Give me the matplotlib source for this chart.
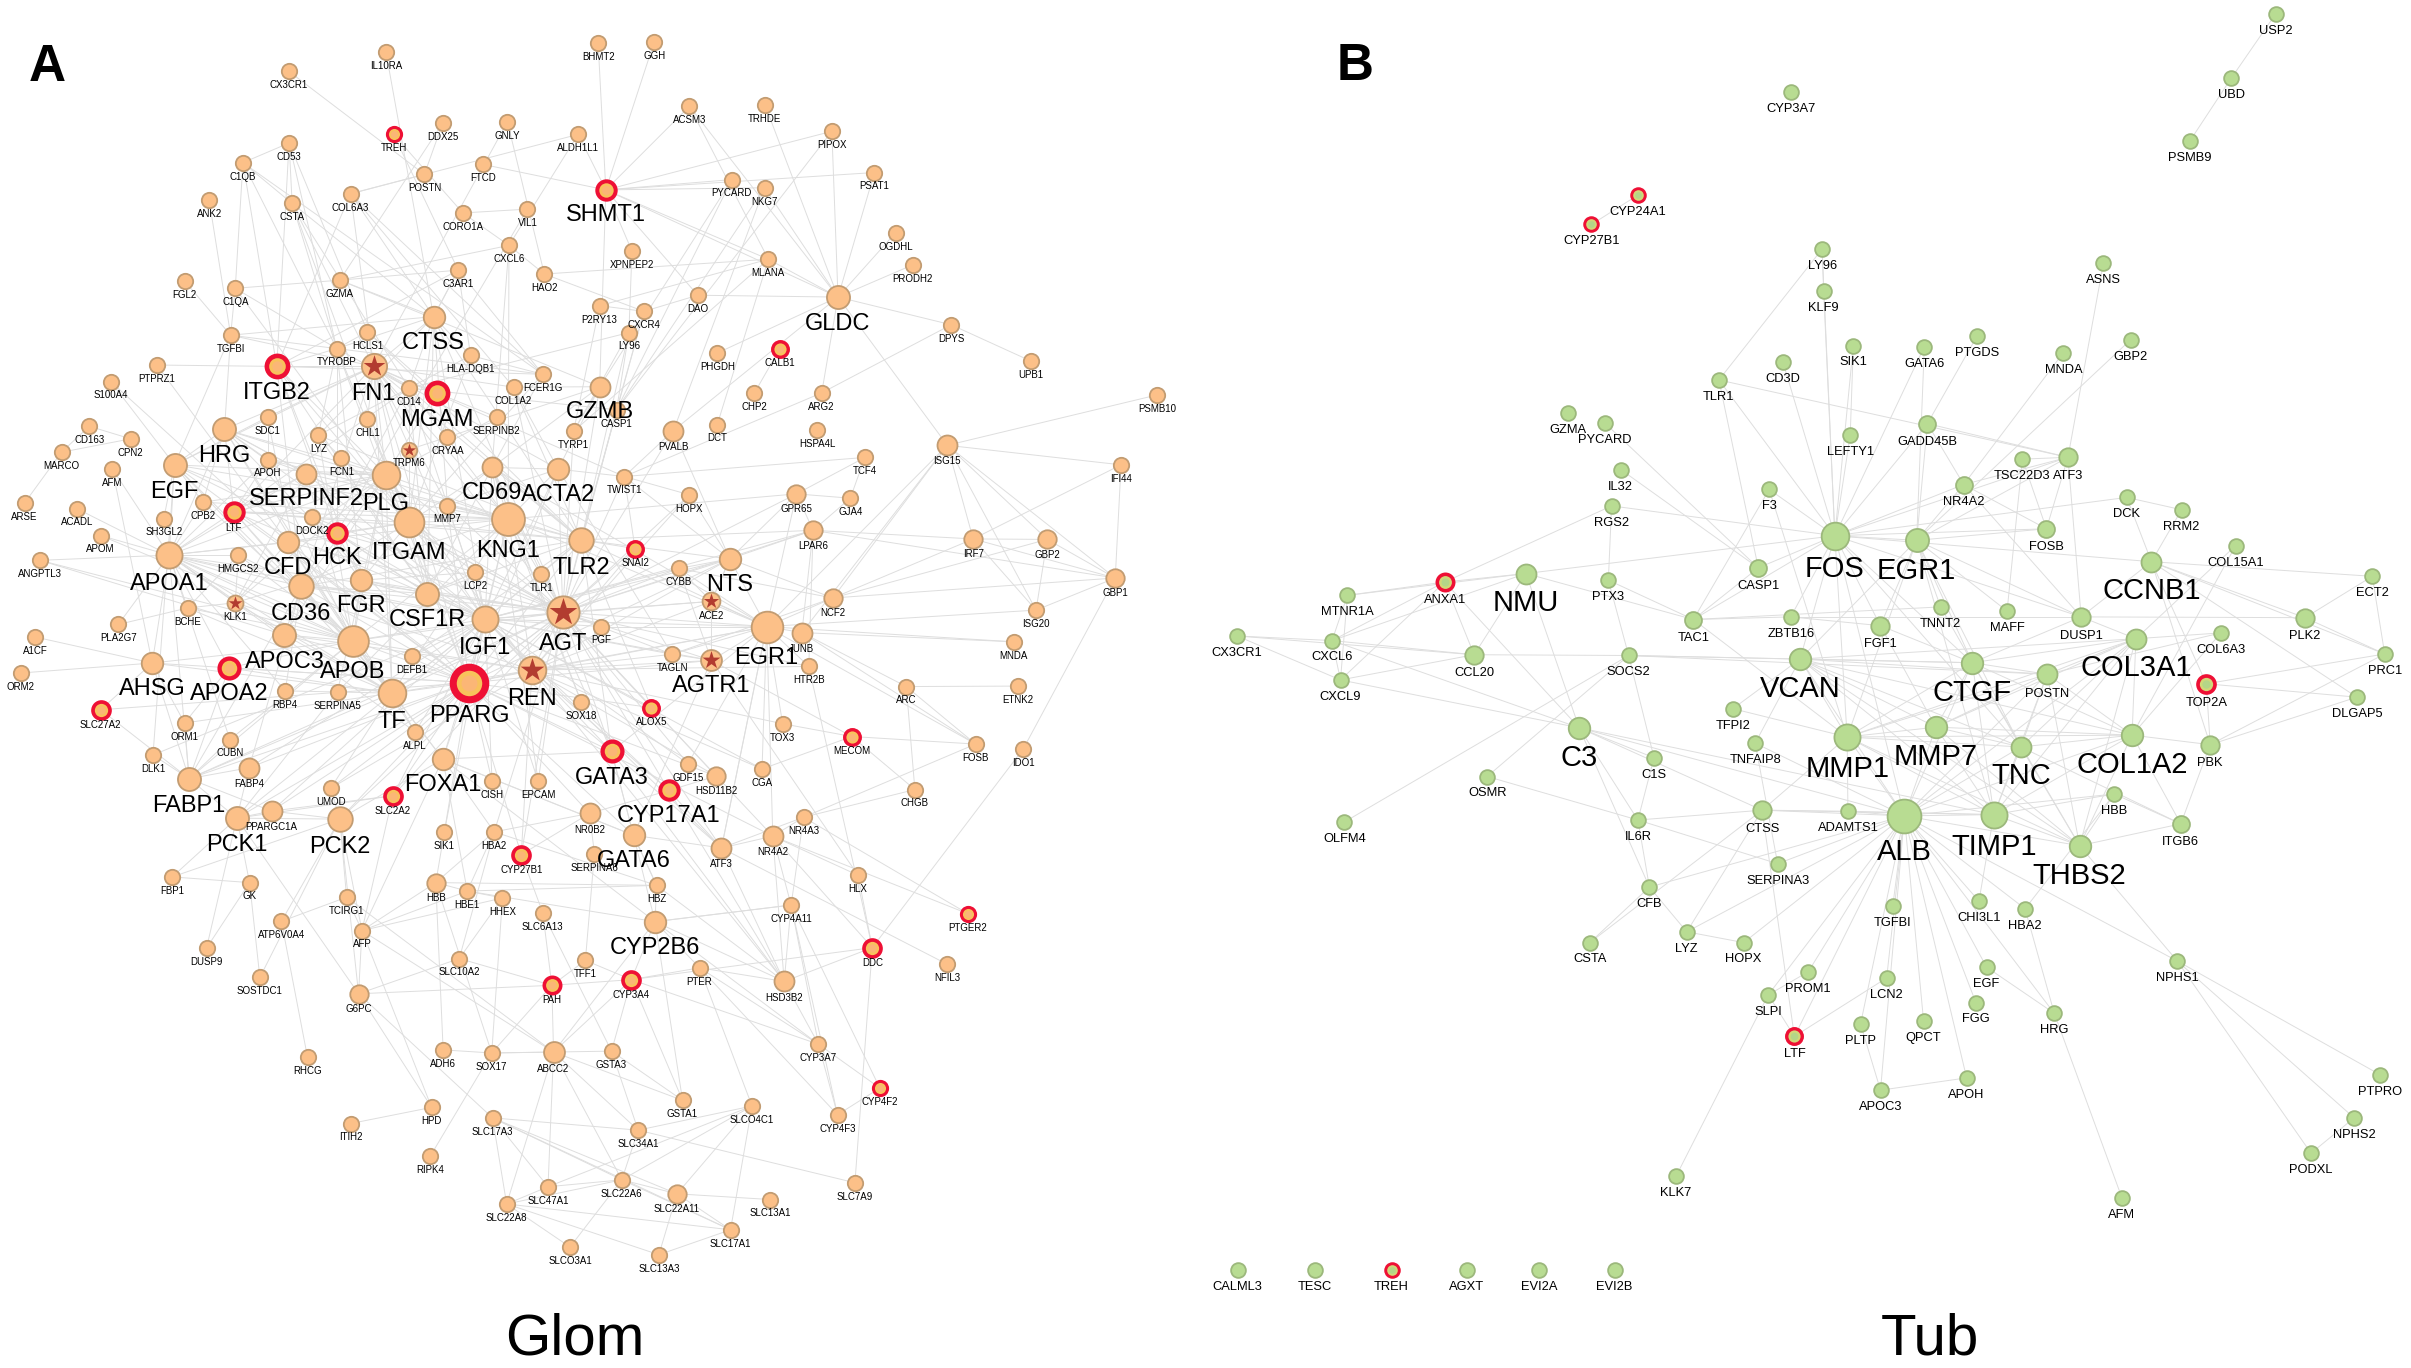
import matplotlib
matplotlib.use('Agg')
import matplotlib.pyplot as plt
from matplotlib.collections import LineCollection

plt.rcParams['font.family'] = ['Liberation Sans', 'DejaVu Sans']

# Posições dos nós (largura 1568)
glom_pos = {
    'CX3CR1': (188, 46.5), 'IL10RA': (251, 33.8), 'BHMT2': (389, 28.2), 'TREH': (256, 87.4), 'DDX25': (288, 79.8),
    'GNLY': (330, 79.2), 'ALDH1L1': (376, 87.4), 'CD53': (188, 93), 'C1QB': (158, 105.8), 'FTCD': (314, 106.9),
    'POSTN': (276, 113.4), 'SHMT1': (394, 123.5), 'ANK2': (136, 130), 'COL6A3': (228, 126), 'CSTA': (190, 132.3),
    'CORO1A': (301, 138.5), 'VIL1': (343, 136), 'CXCL6': (331, 159.6), 'XPNPEP2': (411, 163.3), 'C3AR1': (298, 175.7),
    'HAO2': (354, 178.2), 'FGL2': (120, 182.7), 'C1QA': (153, 187.5), 'GZMA': (221, 182.2), 'P2RY13': (390, 198.8),
    'CTSS': (282, 205.9), 'TGFBI': (150, 218), 'HCLS1': (239, 215.7), 'TYROBP': (219, 226.7), 'LY96': (409, 216.3),
    'HLA-DQB1': (306, 231.2), 'FN1': (243, 238.3), 'ITGB2': (180, 238.3), 'PTPRZ1': (102, 237.4), 'S100A4': (72, 248.2),
    'FCER1G': (353, 243.4), 'COL1A2': (334, 251.8), 'CD14': (266, 252.4), 'MGAM': (284, 255.5), 'GZMB': (390, 251.5),
    'CASP1': (401, 266.5), 'SDC1': (174, 271.3), 'CHL1': (239, 272.4), 'SERPINB2': (323, 271.3), 'TYRP1': (373, 280.6),
    'HRG': (146, 279.2), 'CD163': (58, 277.2), 'CPN2': (85, 285.4), 'LYZ': (207, 283.1), 'CRYAA': (291, 284.3),
    'TRPM6': (266, 292.4), 'MARCO': (40, 294.1), 'APOH': (174, 298.9), 'FCN1': (222, 298.1), 'AFM': (73, 304.8),
    'EGF': (113.5, 302.3), 'SERPINF2': (199, 308), 'ACTA2': (363, 305.1), 'CD69': (320, 304), 'PLG': (251, 308.8),
    'TWIST1': (406, 309.9), 'ARSE': (16, 327.1), 'ACADL': (50, 330.8), 'CPB2': (132, 326.6), 'LTF': (152, 332.8),
    'MMP7': (291, 328.8), 'SH3GL2': (106.5, 337.3), 'DOCK2': (203, 336.4), 'KNG1': (330.5, 337.6), 'ITGAM': (266, 339.8),
    'APOM': (65.5, 348.3), 'HCK': (219, 346.6), 'CFD': (187, 352.5), 'TLR2': (378, 351.1), 'SNAI2': (413, 356.8),
    'APOA1': (110, 361), 'ANGPTL3': (26, 364.4), 'HMGCS2': (155, 361), 'LCP2': (309, 372.2), 'TLR1': (352, 373.1),
    'FGR': (235, 377.3), 'CD36': (196, 381.3), 'CSF1R': (278, 386), 'AGT': (366, 398.2), 'BCHE': (122, 395.4),
    'KLK1': (153, 392), 'IGF1': (315.5, 402.7), 'PGF': (391, 407.5), 'PLA2G7': (77, 406.1), 'A1CF': (23, 414.3),
    'APOC3': (185, 412.9), 'APOB': (229.5, 416.8), 'DEFB1': (268, 426.7), 'AHSG': (99, 431.2), 'ORM2': (13.5, 437.7),
    'APOA2': (149, 434.3), 'REN': (346, 435.7), 'PPARG': (305, 444), 'TF': (255, 450.8), 'RBP4': (185.5, 449.3),
    'SERPINA5': (219.5, 449.9), 'SOX18': (378, 456.5), 'SLC27A2': (65.5, 461.6), 'ALOX5': (423.6, 460.2), 'ORM1': (120, 470.2),
    'ALPL': (270, 475.9), 'CUBN': (149.5, 481), 'DLK1': (99.5, 491), 'FOXA1': (288, 493.6), 'GATA3': (397.7, 488.7),
    'FABP4': (162, 499.3), 'FABP1': (123, 506.4), 'CISH': (320, 508.1), 'EPCAM': (350, 508.1), 'UMOD': (215, 512.7),
    'SLC2A2': (255.5, 517.5), 'PPARGC1A': (176.6, 527.5), 'PCK1': (154, 532.1), 'PCK2': (221, 532.7), 'NR0B2': (383.4, 529),
    'SIK1': (289, 541), 'HBA2': (321.4, 541), 'GATA6': (412, 543.2), 'CYP17A1': (435, 514.1), 'SERPINA6': (386.6, 555.2),
    'CYP27B1': (339, 555.8), 'FBP1': (112, 570.3), 'GK': (162.3, 574), 'HBB': (283.4, 574), 'HBE1': (303.9, 579.5),
    'HHEX': (326.8, 584), 'TCIRG1': (225.4, 583.5), 'ATP6V0A4': (183, 599.2), 'SLC6A13': (353, 593.7), 'AFP': (235.4, 605.2),
    'HBZ': (427, 575.8), 'CYP2B6': (426, 599.4), 'DUSP9': (134.3, 616.6), 'SLC10A2': (298.7, 623.4), 'SOSTDC1': (169, 635.7),
    'TFF1': (380.7, 624.6), 'PAH': (358.9, 640.8), 'CYP3A4': (410.6, 637.1), 'PTER': (455, 629.4), 'G6PC': (233.2, 646.3),
    'RHCG': (200, 687.6), 'ADH6': (288.2, 682.8), 'SOX17': (319.8, 684.8), 'ABCC2': (360, 684.2), 'GSTA3': (397.7, 683.6),
    'HPD': (280.7, 720.2), 'SLC17A3': (320.3, 727), 'ITIH2': (228, 730.7), 'SLC34A1': (415, 735), 'RIPK4': (279.9, 751.8),
    'SLC47A1': (356.4, 771.8), 'SLC22A6': (404.4, 767.3), 'SLC22A8': (329.5, 783), 'SLCO3A1': (370.7, 811), 'TOX3': (509, 470.7),
    'GDF15': (447.4, 496.7), 'MECOM': (554, 479), 'HSD11B2': (465.7, 504.7), 'CGA': (495.6, 500.1), 'FOSB': (634.5, 483.9),
    'IDO1': (665.5, 487), 'CHGB': (595, 513.5), 'NR4A3': (522.6, 531.5), 'NR4A2': (502.6, 543.8), 'ATF3': (469.2, 551.5),
    'HLX': (558, 569.2), 'PTGER2': (629.6, 594.3), 'CYP4A11': (514.5, 588.6), 'DDC': (567.3, 616.3), 'NFIL3': (616, 627.1),
    'HSD3B2': (510, 638.3), 'CYP3A7': (532.3, 679.1), 'CYP4F2': (572.2, 707.6), 'GSTA1': (443.9, 715.6), 'SLCO4C1': (489.1, 719.3),
    'CYP4F3': (544.7, 725), 'SLC7A9': (556, 769.2), 'SLC22A11': (440.3, 776.4), 'SLC13A1': (500.7, 780.1), 'SLC17A1': (475.1, 799.8),
    'SLC13A3': (428.5, 816), 'GGH': (425.5, 27.1), 'ACSM3': (448.4, 69.1), 'TRHDE': (497.5, 68.2), 'PIPOX': (541, 85.4),
    'PSAT1': (568.7, 112.2), 'PYCARD': (476, 116.8), 'NKG7': (497.2, 122.1), 'OGDHL': (582.4, 151.4), 'MLANA': (499.7, 168.6),
    'PRODH2': (593.5, 172.3), 'DAO': (453.8, 192), 'GLDC': (545, 193.2), 'CXCR4': (418.8, 202.5), 'DPYS': (618.6, 211.2),
    'PHGDH': (466.5, 229.6), 'CALB1': (507.2, 226.7), 'UPB1': (670.6, 234.9), 'CHP2': (490.5, 255.8), 'ARG2': (534.4, 255.5),
    'PSMB10': (752.3, 256.9), 'PVALB': (438, 280), 'DCT': (466.5, 276.1), 'HSPA4L': (531.5, 279.5), 'ISG15': (616.1, 289.6),
    'TCF4': (562.5, 297.5), 'IFI44': (729.1, 302.3), 'HOPX': (448.4, 321.8), 'GPR65': (518, 321.2), 'GJA4': (553, 324),
    'LPAR6': (528.8, 344.9), 'IRF7': (632.9, 350.5), 'GBP2': (681.1, 350.8), 'NTS': (474.6, 363.5), 'CYBB': (441.4, 369.7),
    'GBP1': (725.3, 375.9), 'ACE2': (462.7, 391.1), 'NCF2': (541.7, 388.9), 'ISG20': (673.8, 396.8), 'EGR1': (498.6, 407.5),
    'JUNB': (521.5, 411.4), 'MNDA': (659.3, 417.4), 'AGTR1': (462.7, 429.5), 'TAGLN': (437.1, 425.5), 'HTR2B': (526, 433.4),
    'ARC': (589.4, 446.5), 'ETNK2': (662, 446.2),
}

# Raio dos nós maiores (o resto usa o raio padrão)
glom_radius = {
    'SHMT1': 6.5, 'CTSS': 7, 'FN1': 8.2, 'ITGB2': 7.5, 'MGAM': 7.5, 'GZMB': 6.5, 'HRG': 7.5, 'EGF': 7.5, 'SERPINF2': 6.5,
    'ACTA2': 7, 'CD69': 6.5, 'PLG': 9, 'LTF': 6.5, 'KNG1': 10.7, 'ITGAM': 9.7, 'HCK': 6.5, 'CFD': 7, 'TLR2': 8, 'SNAI2': 5.5,
    'APOA1': 8.5, 'FGR': 7, 'CD36': 8, 'CSF1R': 7.5, 'AGT': 10.5, 'IGF1': 8.5, 'APOC3': 7.5, 'APOB': 10, 'AHSG': 7, 'APOA2': 7,
    'REN': 9, 'PPARG': 11.5, 'TF': 9, 'SLC27A2': 6, 'ALOX5': 5.5, 'FOXA1': 7, 'GATA3': 7, 'FABP4': 6.5, 'FABP1': 7.5,
    'SLC2A2': 6, 'PPARGC1A': 6.5, 'PCK1': 7.5, 'PCK2': 8, 'NR0B2': 6.5, 'GATA6': 7, 'CYP17A1': 6.5, 'CYP27B1': 6, 'HBB': 6,
    'CYP2B6': 7, 'PAH': 5.8, 'CYP3A4': 6, 'G6PC': 6, 'ABCC2': 6.8, 'MECOM': 5.5, 'HSD11B2': 6, 'NR4A2': 6.5, 'ATF3': 6.5,
    'DDC': 6, 'HSD3B2': 6.5, 'SLC22A11': 6, 'GLDC': 7.5, 'CALB1': 5.5, 'PVALB': 6.5, 'ISG15': 6.5, 'GPR65': 6, 'LPAR6': 6,
    'IRF7': 6, 'GBP2': 6, 'NTS': 7, 'GBP1': 6, 'ACE2': 5.8, 'NCF2': 6, 'EGR1': 10.3, 'JUNB': 6.5, 'AGTR1': 6.8, 'KLK1': 5.2,
}
glom_big_labels = [
    'SHMT1', 'CTSS', 'FN1', 'ITGB2', 'MGAM', 'GZMB', 'HRG', 'EGF', 'SERPINF2', 'ACTA2', 'CD69', 'PLG', 'KNG1', 'ITGAM', 'HCK',
    'CFD', 'TLR2', 'APOA1', 'FGR', 'CD36', 'CSF1R', 'AGT', 'IGF1', 'APOC3', 'APOB', 'AHSG', 'APOA2', 'REN', 'PPARG', 'TF',
    'FOXA1', 'GATA3', 'FABP1', 'PCK1', 'PCK2', 'GATA6', 'CYP17A1', 'CYP2B6', 'GLDC', 'NTS', 'EGR1', 'AGTR1',
]
glom_red = [
    'TREH', 'SHMT1', 'ITGB2', 'MGAM', 'LTF', 'HCK', 'SNAI2', 'APOA2', 'PPARG', 'SLC27A2', 'ALOX5', 'GATA3', 'SLC2A2', 'CYP17A1',
    'CYP27B1', 'PAH', 'CYP3A4', 'MECOM', 'PTGER2', 'DDC', 'CYP4F2', 'CALB1',
]
glom_star = ['FN1', 'TRPM6', 'KLK1', 'AGT', 'REN', 'ACE2', 'AGTR1']

# Arestas: primeiro nome de cada linha é o nó central, os outros são os vizinhos
glom_edges = [
    'CX3CR1 POSTN', 'IL10RA CTSS', 'TREH CORO1A C3AR1', 'DDX25 GZMA POSTN', 'GNLY FN1 HAO2', 'ALDH1L1 COL6A3 CXCL6',
    'SHMT1 BHMT2 GGH ACSM3 PIPOX PSAT1 PYCARD NKG7 FTCD MLANA GLDC DAO GZMB XPNPEP2 ALDH1L1',
    'GLDC PIPOX PSAT1 OGDHL PRODH2 DPYS TRHDE NKG7 MLANA DAO PHGDH ARG2 ISG15 ACSM3 PVALB',
    'DPYS UPB1 ARG2', 'CALB1 CHP2', 'ARG2 TWIST1', 'PYCARD CASP1 GZMB', 'PIPOX CASP1', 'NKG7 CASP1 PVALB', 'MLANA TYRP1 DCT P2RY13',
    'CXCR4 P2RY13 TLR2 DAO', 'HAO2 CXCL6 CXCR4 MLANA', 'ACSM3 MLANA', 'VIL1 CORO1A HCK', 'CXCL6 CORO1A GZMA KNG1 CD69',
    'ISG15 PSMB10 IFI44 IRF7 GBP2 GBP1 ISG20 NCF2 EGR1 JUNB', 'IFI44 IRF7 GBP1', 'IRF7 GBP2 GBP1 ISG20 LPAR6 NCF2',
    'GBP2 GBP1 ISG20 NCF2', 'GBP1 ISG20 NCF2 IDO1', 'ISG20 EGR1', 'MNDA JUNB EGR1', 'TCF4 TWIST1 GPR65 GJA4',
    'GJA4 LPAR6 GPR65', 'GPR65 LPAR6 EGR1 AGT KNG1', 'LPAR6 JUNB HTR2B NTS AGT TLR2 IGF1 GBP1', 'NCF2 EGR1 TAGLN NTS CYBB',
    'HTR2B AGT REN DDC EGR1', 'EGR1 FOSB AGT IGF1 NTS JUNB AGTR1 REN PPARG GATA3 TAGLN ACE2 PGF CD69 KNG1 ATF3 NR4A2 CYBB TLR2',
    'ARC FOSB ETNK2 JUNB CHGB', 'JUNB FOSB', 'MECOM TOX3 FOSB CGA AGTR1 CHGB', 'FOSB NR4A3', 'CHGB NR4A3', 'IDO1 DDC',
    'DDC HSD3B2 CYP3A4 SLC7A9 NR4A2 HLX', 'PTGER2 NR4A2 NR4A3', 'NFIL3 ATF3', 'HLX NR4A2 AGTR1',
    'CYP4A11 HSD3B2 CYP3A7 CYP4F2 CYP2B6 NR4A3 NR4A2 CYP4F3', 'HSD3B2 PTER CYP3A7 CYP17A1 ATF3 GATA3 NR4A2 REN',
    'CYP3A7 CYP2B6 CYP3A4 CYP4F2 PTER CYP4F3', 'CYP4F3 CYP4F2 PTER', 'SLC34A1 SLC7A9 GSTA3', 'GSTA1 CYP2B6 CYP3A4 GSTA3',
    'SLCO4C1 PTER SLC22A6 SLC47A1 SLC22A11 SLC17A1 SLC34A1', 'SLC17A3 SLC34A1 SLC47A1 SLC22A8 SLC22A11 SLC22A6 SLC17A1 G6PC',
    'ABCC2 SLC22A8 SLC47A1 SLC34A1 SOX17 GSTA3 CYP3A4 PAH AFP TCIRG1 SLC22A6 GSTA1 CYP2B6', 'SLC22A6 SLC47A1 SLC22A8 SLC22A11 SLC17A1 SLCO3A1 SLC34A1',
    'SLC22A8 SLC13A3 SLCO3A1 SLC47A1 SLC17A1', 'SLC17A1 SLC13A3 SLC22A11', 'SLC13A1 SLC22A11', 'SLC13A3 SLC22A11', 'HPD ITIH2 G6PC',
    'RIPK4 SOX17', 'ADH6 SOX17 HBB', 'SOX17 HBB HHEX PAH ABCC2', 'AFP HBB HBE1 TCIRG1 HPD G6PC PCK2 SLC2A2 HHEX FOXA1',
    'G6PC PCK1 PCK2 SLC10A2 PAH', 'RHCG ATP6V0A4', 'ATP6V0A4 TCIRG1 PCK2', 'SOSTDC1 GK PCK2', 'DUSP9 GK PCK1', 'FBP1 GK PCK1 PCK2',
    'GK PCK1', 'TCIRG1 PCK2', 'SLC10A2 PAH HHEX HBA2', 'PAH TFF1 CYP3A4 SLC6A13', 'TFF1 SERPINA6', 'CYP3A4 TFF1 CYP2B6 PTER GSTA3',
    'SLC6A13 CYP27B1 GSTA3', 'CYP2B6 HBZ CYP4A11 PTER HSD3B2 HBE1 GATA6', 'HBE1 HBB HHEX HBA2 FOXA1', 'HBB HBA2 HBZ SIK1', 'HBZ HBA2 HBE1 GATA6 HSD3B2',
    'ANK2 TGFBI', 'FGL2 TGFBI', 'C1QB CD53 C1QA CSTA TYROBP FCER1G ITGB2', 'CD53 TYROBP CSTA HCLS1 ITGB2', 'CSTA CTSS TYROBP CD14 FN1 ITGAM',
    'COL6A3 POSTN FN1 COL1A2 ITGB2 FCER1G CTSS', 'C1QA TYROBP GZMA TGFBI', 'TGFBI HRG FN1 TYROBP CTSS', 'PTPRZ1 ITGB2 CFD',
    'S100A4 CFD EGF', 'CD163 MARCO CPN2', 'MARCO ARSE CPN2', 'AFM AHSG APOA1', 'ACADL APOA1', 'SH3GL2 EGF', 'APOM APOA1 APOB',
    'ANGPTL3 APOA1 APOC3 APOB', 'PLA2G7 APOA1 BCHE', 'A1CF AHSG', 'ORM2 AHSG', 'SLC27A2 AHSG FABP1 PPARG', 'ORM1 AHSG TF APOA2 FABP1',
    'DLK1 FABP1 IGF1 EGF', 'CUBN FABP1 APOA1 APOB', 'RBP4 APOA1 TF CD36', 'SERPINA5 PLG KNG1 PCK1',
    'FABP1 FABP4 PCK1 PPARGC1A PPARG APOB APOA1 TF AGT AHSG APOA2 CD36', 'FABP4 PPARG CD36 PCK1 IGF1', 'PCK1 PCK2 PPARGC1A PPARG IGF1',
    'PCK2 PPARGC1A PPARG UMOD AGT FOXA1', 'PPARGC1A PPARG SLC2A2 IGF1', 'UMOD AGT REN TF', 'SLC2A2 PPARG IGF1 PCK1 AGT',
    'FOXA1 PPARG IGF1 GATA3 TF APOB CYP2B6 GATA6 HBA2', 'GATA3 IGF1 KNG1 AGT TLR2 GATA6 PPARG CSF1R',
    'GATA6 FOXA1 AGTR1 ATF3 HBZ PPARG GATA3', 'CYP17A1 AGT REN IGF1 HSD11B2 NR0B2 ATF3', 'NR0B2 PPARG SERPINA6 CYP27B1 HBA2',
    'HSD11B2 AGT REN PPARG', 'GDF15 EGR1 IGF1 AGT', 'CGA EGR1 IGF1 REN', 'ATF3 EGR1 AGT IGF1 GATA3 NR4A2 NR4A3', 'NR4A2 AGT NR4A3 PPARG',
    'TOX3 EGR1 REN', 'ALOX5 PPARG AGT IGF1 TLR2', 'SOX18 KNG1 CD69', 'SIK1 IGF1 PPARG', 'CISH IGF1 PPARG', 'EPCAM IGF1 CD69 AGT',
    'HBA2 AGT', 'CYP27B1 AGT REN PPARG', 'ALPL APOB APOA1 TF PPARG IGF1', 'DEFB1 TLR2 IGF1',
    'IGF1 AGT REN PPARG TF APOB PLG KNG1 ITGAM CD36 TLR2 NTS APOA1 EGF HRG FN1 CTSS CD69 ACTA2 LCP2 TLR1 CSF1R FGR HCK AGTR1 ACE2 TAGLN PGF CD14 MMP7 LTF SERPINF2 CYBB',
    'AGT REN PPARG TF APOB PLG KNG1 ITGAM CD36 TLR2 NTS APOA1 EGF HRG FN1 CTSS CD69 ACTA2 LCP2 TLR1 CSF1R FGR AGTR1 ACE2 TAGLN PGF CYBB SNAI2 TWIST1 PVALB HOPX CASP1 GZMB MMP7 SERPINF2 CFD TYRP1 COL1A2',
    'PPARG REN TF APOB PLG KNG1 CD36 TLR2 NTS APOA1 EGF HRG FN1 ACTA2 APOC3 APOA2 AHSG AGTR1 CFD LTF ITGAM MMP7',
    'REN TF APOB PLG KNG1 AGTR1 ACE2 NTS APOA1 APOC3 TAGLN HOPX SNAI2',
    'APOB TF PLG KNG1 CD36 APOA1 APOC3 APOA2 AHSG EGF HRG SERPINF2 LYZ FGR CFD BCHE HMGCS2 APOH CPB2 KLK1',
    'TF APOA1 APOC3 APOA2 AHSG CD36 PLG KNG1 EGF HRG FN1 LTF CFD KLK1 BCHE',
    'APOA1 APOC3 APOA2 AHSG CD36 PLG HRG EGF CPB2 SERPINF2 HMGCS2 BCHE KLK1 LTF APOH KNG1 CFD',
    'PLG KNG1 HRG SERPINF2 FN1 APOH EGF CPB2 LTF KLK1 CD36 APOC3 SERPINB2 ITGB2 CFD FCN1 MGAM',
    'KNG1 HRG SERPINF2 EGF FN1 CPB2 KLK1 APOH LTF TLR2 ACTA2 CD69 CD14 ITGAM',
    'ITGAM ITGB2 HCK FGR CSF1R TYROBP CD14 FN1 CD36 CTSS LYZ DOCK2 CHL1 FCN1 TLR2 CFD LCP2 CD69 FCER1G HLA-DQB1 C1QA',
    'CSF1R HCK FGR CD14 TYROBP LYZ CD36 LCP2 DOCK2 ITGB2 CD69 TLR2', 'HCK FGR DOCK2 LCP2 TYROBP ITGB2', 'FGR ITGB2 TYROBP DOCK2 LCP2',
    'CD36 TLR2 APOC3 FN1 ITGB2 CD14 SDC1 LTF', 'TLR2 CD14 TLR1 CD69 CTSS LYZ FN1 LTF HCLS1 MMP7 SNAI2 COL1A2',
    'CD14 FN1 LYZ TYROBP LTF HLA-DQB1 CTSS', 'FN1 ITGB2 SDC1 COL1A2 ACTA2 CTSS LTF CHL1 EGF HCLS1 TWIST1 MMP7 HRG MGAM',
    'ACTA2 COL1A2 TWIST1 CD69 MMP7 TAGLN GZMB', 'CD69 GZMB FCER1G TLR1 MMP7', 'CTSS LYZ CSF1R TYROBP MMP7 C3AR1 HLA-DQB1 GZMA',
    'GZMB GZMA COL1A2 TYRP1 CRYAA', 'MGAM HCLS1 CRYAA SERPINB2', 'FCER1G ITGB2 HLA-DQB1 TYROBP C3AR1', 'C3AR1 CTSS GZMA ITGB2 HLA-DQB1',
    'TYROBP ITGB2 HCLS1 LYZ', 'EGF HRG SDC1 CPB2 TGFBI', 'HRG CPB2 LTF SERPINF2 APOH', 'LTF DOCK2 SERPINF2 APOH', 'HMGCS2 CD36 KLK1 BCHE',
    'KLK1 CFD SERPINF2 BCHE', 'NTS CYBB TLR2 PVALB HOPX ACE2 GPR65 TWIST1', 'TWIST1 SNAI2 PVALB HOPX', 'ACE2 AGTR1 NTS CYBB', 'AGTR1 TAGLN CYBB',
    'TYRP1 P2RY13 LY96', 'LY96 TLR2 CD14 XPNPEP2', 'CASP1 TLR2 CD14 LY96 CXCR4', 'APOH SDC1 SERPINF2', 'CRYAA TRPM6',
]

tub_pos = {
    'CX3CR1': (804.5, 413.6), 'MTNR1A': (876.3, 387.2), 'ANXA1': (939.6, 378.5), 'NMU': (992.4, 373), 'CXCL6': (866.3, 416.6),
    'CXCL9': (871.8, 442.2), 'CCL20': (958.7, 425.8), 'PTX3': (1046, 377.3), 'RGS2': (1048.1, 329), 'IL32': (1054.1, 305.4),
    'GZMA': (1020, 268.8), 'PYCARD': (1043.6, 275), 'F3': (1150.6, 318.3), 'TLR1': (1117.9, 247.1), 'CD3D': (1159.6, 235.7),
    'SIK1': (1205.3, 224.7), 'GATA6': (1251.5, 225.5), 'PTGDS': (1285.7, 218.7), 'MNDA': (1341.9, 229.4), 'GBP2': (1385.6, 221),
    'LEFTY1': (1203.3, 283), 'GADD45B': (1253.5, 275.5), 'TSC22D3': (1315.3, 298.6), 'ATF3': (1344.9, 297.4), 'NR4A2': (1277.1, 315.1),
    'DCK': (1383.1, 323.5), 'RRM2': (1418.8, 331.5), 'FOSB': (1330.9, 343.9), 'COL15A1': (1453.9, 354.9), 'FOS': (1193.3, 348.4),
    'EGR1': (1246.5, 351.4), 'CASP1': (1143.5, 369.3), 'CCNB1': (1399.2, 365.3), 'ECT2': (1542.8, 374.8), 'TAC1': (1101.3, 402.9),
    'ZBTB16': (1164.6, 401.2), 'TNNT2': (1262.1, 394.7), 'MAFF': (1305.3, 397.4), 'DUSP1': (1353.5, 401.2), 'FGF1': (1222.9, 406.9),
    'PLK2': (1499.1, 401.7), 'COL3A1': (1389.1, 415.4), 'COL6A3': (1444.4, 411.6), 'PRC1': (1550.9, 425.3), 'SOCS2': (1059.2, 426.3),
    'VCAN': (1170.7, 428.6), 'CTGF': (1282.7, 431), 'POSTN': (1331.4, 438.5), 'TOP2A': (1434.9, 444.7), 'DLGAP5': (1532.8, 453.4),
    'TFPI2': (1127, 460.9), 'C3': (1027, 473.3), 'MMP1': (1201.3, 479.3), 'MMP7': (1259, 472.9), 'COL1A2': (1386.6, 478.1),
    'PBK': (1437.4, 484.3), 'TNFAIP8': (1141.5, 483.3), 'TNC': (1314.3, 485.8), 'C1S': (1075.7, 492.8), 'OSMR': (967.2, 505),
    'HBB': (1375, 516.4), 'TIMP1': (1296.7, 529.8), 'ALB': (1238.5, 530.6), 'ADAMTS1': (1201.8, 527.6), 'CTSS': (1146, 526.9),
    'IL6R': (1065.2, 533.3), 'OLFM4': (874.3, 534.6), 'ITGB6': (1418.3, 535.8), 'THBS2': (1352.5, 550), 'SERPINA3': (1156.1, 561.7),
    'CFB': (1072.7, 576.9), 'CYP3A7': (1165, 60), 'USP2': (1480, 9), 'UBD': (1451, 51), 'PSMB9': (1424, 92), 'CYP24A1': (1065, 127),
    'CYP27B1': (1035, 146), 'ASNS': (1368, 171), 'LY96': (1185, 162), 'KLF9': (1186, 189), 'HOPX': (1134, 613), 'LYZ': (1097, 606),
    'CSTA': (1034, 613), 'HBA2': (1317, 591), 'CHI3L1': (1287, 586), 'TGFBI': (1231, 589), 'NPHS1': (1416, 625), 'PROM1': (1176, 632),
    'LCN2': (1227, 636), 'EGF': (1292, 629), 'SLPI': (1150, 647), 'HRG': (1336, 659), 'FGG': (1285, 652), 'QPCT': (1251, 664),
    'PLTP': (1210, 666), 'LTF': (1167, 674), 'APOH': (1279, 701), 'APOC3': (1223, 709), 'PTPRO': (1548, 699), 'NPHS2': (1531, 727),
    'PODXL': (1503, 750), 'KLK7': (1090, 765), 'AFM': (1380, 779), 'CALML3': (805, 826), 'TESC': (855, 826), 'TREH': (905, 826),
    'AGXT': (954, 826), 'EVI2A': (1001, 826), 'EVI2B': (1050, 826),
}
tub_radius = {
    'NMU': 6.5, 'CCL20': 6, 'GADD45B': 5.5, 'ATF3': 6, 'NR4A2': 5.5, 'FOSB': 5.5, 'FOS': 9, 'EGR1': 7.5, 'CASP1': 5.5, 'CCNB1': 6.5,
    'TAC1': 5.5, 'DUSP1': 6, 'FGF1': 6, 'PLK2': 6, 'COL3A1': 6.5, 'VCAN': 7, 'CTGF': 7, 'POSTN': 6.5, 'TOP2A': 6, 'C3': 7, 'MMP1': 8.5,
    'MMP7': 7, 'COL1A2': 7, 'PBK': 6, 'TNC': 6.5, 'TIMP1': 8.5, 'ALB': 11, 'CTSS': 6, 'ITGB6': 5.5, 'THBS2': 7, 'ANXA1': 5.8, 'LTF': 5.5,
}
tub_big_labels = [
    'NMU', 'FOS', 'EGR1', 'CCNB1', 'COL3A1', 'VCAN', 'CTGF', 'C3', 'MMP1', 'MMP7', 'COL1A2', 'TNC', 'TIMP1', 'ALB', 'THBS2',
]
tub_red = ['ANXA1', 'TOP2A', 'LTF', 'TREH', 'CYP24A1', 'CYP27B1']
tub_edges = [
    'USP2 UBD', 'UBD PSMB9', 'CYP24A1 CYP27B1', 'ASNS ATF3', 'LY96 KLF9 TLR1 FOS', 'KLF9 FOS', 'TLR1 FOS ATF3 CASP1', 'CD3D FOS', 'SIK1 FOS LEFTY1',
    'GATA6 FOS EGR1', 'PTGDS GADD45B', 'GADD45B FOS EGR1 ATF3 NR4A2', 'LEFTY1 FOS', 'MNDA NR4A2', 'GBP2 EGR1',
    'ATF3 FOS EGR1 NR4A2 DUSP1 TSC22D3 FOSB', 'TSC22D3 MAFF FOSB', 'NR4A2 FOS EGR1 FOSB DUSP1', 'DCK RRM2 CCNB1 FOS', 'RRM2 CCNB1', 'COL15A1 COL3A1 COL1A2',
    'CCNB1 ECT2 PLK2 PRC1 TOP2A PBK DLGAP5 FOS DUSP1', 'ECT2 PLK2 PRC1', 'PLK2 DUSP1 PRC1', 'PRC1 TOP2A PBK', 'TOP2A DLGAP5 PBK', 'COL6A3 COL3A1 COL1A2 POSTN',
    'FOS RGS2 NMU CASP1 EGR1 FOSB DUSP1 MMP1 CTGF VCAN F3 TAC1 FGF1 ZBTB16 ALB TNC', 'EGR1 FOSB DUSP1 MAFF TNNT2 MMP1 CTGF VCAN FGF1 TIMP1 TNC',
    'PYCARD CASP1', 'IL32 CASP1', 'RGS2 ANXA1 PTX3', 'F3 TAC1 MMP1', 'ANXA1 NMU MTNR1A CCL20 C3 CXCL6 CXCL9', 'NMU C3 CCL20 TAC1 MTNR1A CXCL6',
    'CXCL6 CX3CR1 CXCL9 CCL20 MTNR1A C3', 'CX3CR1 CCL20 CXCL9', 'CXCL9 CCL20 C3 MTNR1A', 'PTX3 SOCS2 TAC1', 'TAC1 CASP1 TNNT2 MMP1 ZBTB16',
    'SOCS2 CCL20 VCAN C1S OSMR POSTN CTGF', 'OSMR IL6R', 'OLFM4 SOCS2', 'C3 ALB TIMP1 IL6R CFB C1S CTSS', 'C1S IL6R', 'IL6R CTSS CFB SERPINA3',
    'CFB CSTA ALB LYZ', 'CSTA CTSS', 'LYZ HOPX CTSS ALB', 'HOPX ALB', 'TFPI2 MMP1 VCAN', 'TNFAIP8 ALB VCAN SERPINA3',
    'ALB TIMP1 MMP1 MMP7 CTSS ADAMTS1 THBS2 TNC COL1A2 VCAN EGF HRG FGG APOH APOC3 SLPI LTF PLTP LCN2 QPCT TGFBI CHI3L1 HBB HBA2 SERPINA3 PROM1 NPHS1 CTGF COL3A1 POSTN',
    'TIMP1 MMP1 MMP7 THBS2 TNC COL1A2 COL3A1 CTGF VCAN POSTN CTSS ADAMTS1 CHI3L1 HBB', 'MMP1 MMP7 TNC COL1A2 COL3A1 CTGF VCAN POSTN CTSS THBS2 ADAMTS1',
    'MMP7 TNC COL1A2 COL3A1 CTGF VCAN POSTN THBS2 FGF1', 'COL1A2 TNC COL3A1 POSTN CTGF THBS2 VCAN ITGB6', 'COL3A1 TNC POSTN CTGF THBS2 VCAN DUSP1',
    'CTGF VCAN POSTN TNC THBS2 FGF1 DUSP1 TNNT2', 'POSTN TNC THBS2 VCAN', 'TNC THBS2 VCAN ITGB6', 'THBS2 ITGB6 HBB NPHS1 VCAN', 'ITGB6 PBK',
    'PBK COL1A2 DLGAP5', 'HBB ITGB6 HBA2', 'ZBTB16 FGF1 DUSP1', 'CTSS ADAMTS1 LTF', 'HRG AFM HBA2', 'KLK7 SLPI', 'SLPI LTF PROM1', 'LTF LCN2',
    'NPHS1 PTPRO NPHS2 PODXL', 'NPHS2 PODXL', 'APOC3 APOH', 'PLTP APOC3', 'EGF HRG',
]

GLOM_COLOR = ('#FCC088', '#C29C72', '#F8C25C', '#FBB676')
TUB_COLOR = ('#B8DC92', '#9CB87C', '#D2D878', '#B4D688')
RED = '#EE1035'
STAR = '#B23C30'
EDGE = '#DEDEDE'
SCALE = 2411 / 1568


def diam(r, f=1.0):
    # raio em unidades da imagem -> área do marcador em pontos^2
    return (2 * r * f * SCALE * 0.72) ** 2


def draw_net(ax, pos, radius, big, red, star, edges, colors, small_r, small_fs, big_fs, small_gap, big_gap):
    segs = []
    for row in edges:
        parts = row.split()
        for other in parts[1:]:
            if parts[0] in pos and other in pos:
                segs.append([pos[parts[0]], pos[other]])
    ax.add_collection(LineCollection(segs, colors=EDGE, linewidths=0.7, zorder=1))

    for name, (x, y) in pos.items():
        r = radius.get(name, small_r)
        if name in red:
            ax.scatter(x, y, s=diam(r, 1.12), color=RED, linewidths=0, zorder=3)
            ax.scatter(x, y, s=diam(r, 0.72), color=colors[2], linewidths=0, zorder=3)
            ax.scatter(x, y, s=diam(r, 0.45), color=colors[3], linewidths=0, zorder=3)
        else:
            ax.scatter(x, y, s=diam(r), color=colors[0], edgecolors=colors[1], linewidths=1.3, zorder=3)
        if name in star:
            ax.scatter(x, y, s=diam(r, 0.9), marker='*', color=STAR, linewidths=0, zorder=4)
        if name in big:
            ax.text(x, y + r + big_gap, name, fontsize=big_fs, ha='center', va='center', color='black', zorder=5)
        else:
            ax.text(x, y + r + small_gap, name, fontsize=small_fs, ha='center', va='center', color='black', zorder=5)


fig = plt.figure(figsize=(24.11, 13.68), dpi=100)
ax = fig.add_axes([0, 0, 1, 1])
ax.set_xlim(0, 1568)
ax.set_ylim(1368 / SCALE, 0)
ax.axis('off')

draw_net(ax, glom_pos, glom_radius, glom_big_labels, glom_red, glom_star, glom_edges, GLOM_COLOR, 5, 7, 17, 4, 10)
draw_net(ax, tub_pos, tub_radius, tub_big_labels, tub_red, [], tub_edges, TUB_COLOR, 4.8, 9.3, 21, 6.2, 12.5)

ax.text(31, 44, 'A', fontsize=37, fontweight='bold', ha='center', va='center')
ax.text(881, 43, 'B', fontsize=37, fontweight='bold', ha='center', va='center')
ax.text(374, 871, 'Glom', fontsize=42, ha='center', va='center')
ax.text(1255, 871, 'Tub', fontsize=42, ha='center', va='center')

fig.savefig('out.png', dpi=100)
